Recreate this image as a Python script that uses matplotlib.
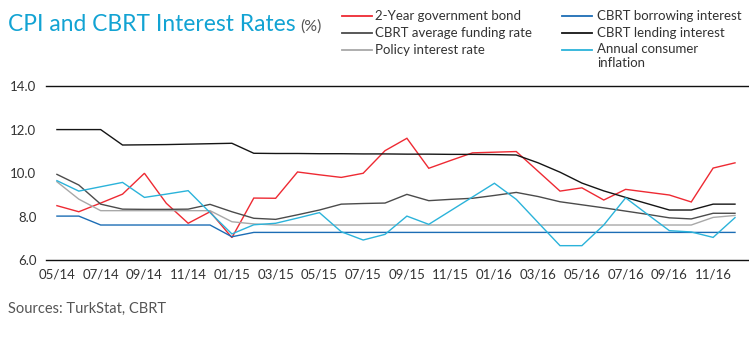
import matplotlib
matplotlib.use("Agg")
import matplotlib.pyplot as plt
from matplotlib.lines import Line2D
from matplotlib.ticker import FormatStrFormatter
import numpy as np

plt.rcParams['font.family'] = ['Lato', 'DejaVu Sans']

months = ['05/14', '06/14', '07/14', '08/14', '09/14', '10/14', '11/14', '12/14',
          '01/15', '02/15', '03/15', '04/15', '05/15', '06/15', '07/15', '08/15',
          '09/15', '10/15', '11/15', '12/15', '01/16', '02/16', '03/16', '04/16',
          '05/16', '06/16', '07/16', '08/16', '09/16', '10/16', '11/16', '12/16']
tick_labels = ['05/14', '07/14', '09/14', '11/14', '01/15', '03/15', '05/15', '07/15',
               '09/15', '11/15', '01/16', '03/16', '05/16', '07/16', '09/16', '11/16']

bond_2y = [8.50, 8.22, 8.62, 9.03, 9.99, 8.61, 7.69, 8.22, 7.03, 8.85, 8.84, 10.05,
           9.92, 9.80, 9.99, 11.03, 11.60, 10.22, 10.58, 10.93, 10.96, 10.99, 10.08, 9.17,
           9.32, 8.76, 9.25, 9.12, 8.99, 8.67, 10.23, 10.47]
avg_funding = [9.94, 9.45, 8.57, 8.34, 8.33, 8.33, 8.34, 8.56, 8.22, 7.92, 7.87, 8.08,
               8.30, 8.57, 8.60, 8.62, 9.02, 8.73, 8.79, 8.84, 8.97, 9.11, 8.92, 8.68,
               8.54, 8.40, 8.25, 8.10, 7.94, 7.89, 8.15, 8.15]
policy_rate = [9.60, 8.80, 8.27, 8.27, 8.27, 8.27, 8.27, 8.27, 7.76, 7.66, 7.61, 7.61,
               7.61, 7.61, 7.61, 7.61, 7.61, 7.61, 7.61, 7.61, 7.61, 7.61, 7.61, 7.61,
               7.61, 7.61, 7.61, 7.61, 7.61, 7.61, 7.96, 8.05]
borrowing_rate = [8.02, 8.02, 7.61, 7.61, 7.61, 7.61, 7.61, 7.61, 7.07, 7.27, 7.27, 7.27,
                  7.27, 7.27, 7.27, 7.27, 7.27, 7.27, 7.27, 7.27, 7.27, 7.27, 7.27, 7.27,
                  7.27, 7.27, 7.27, 7.27, 7.27, 7.27, 7.27, 7.27]
lending_rate = [12.0, 12.0, 12.0, 11.29, 11.30, 11.31, 11.33, 11.35, 11.37, 10.91, 10.90, 10.90,
                10.89, 10.89, 10.88, 10.88, 10.87, 10.87, 10.86, 10.86, 10.85, 10.83, 10.47, 10.04,
                9.54, 9.18, 8.88, 8.59, 8.30, 8.30, 8.57, 8.57]
inflation = [9.65, 9.17, 9.37, 9.57, 8.88, 9.03, 9.19, 8.18, 7.20, 7.62, 7.69, 7.93,
             8.18, 7.30, 6.92, 7.18, 8.02, 7.64, 8.27, 8.90, 9.53, 8.79, 7.72, 6.66,
             6.66, 7.61, 8.86, 8.10, 7.35, 7.29, 7.04, 7.95]

series = [
    ('2-Year government bond', bond_2y, '#ee2a33'),
    ('CBRT average funding rate', avg_funding, '#4b4b4b'),
    ('Policy interest rate', policy_rate, '#a8a8a8'),
    ('CBRT borrowing interest', borrowing_rate, '#1c6db5'),
    ('CBRT lending interest', lending_rate, '#151515'),
    ('Annual consumer\ninflation', inflation, '#2bb3da'),
]

fig = plt.figure(figsize=(7.49, 3.39), dpi=100)
ax = fig.add_axes([0.0614, 0.233, 0.9386, 0.513])

x = np.arange(len(months))
for label, values, color in series:
    ax.plot(x, values, color=color, lw=1.0, solid_joinstyle='miter')

ax.set_xlim(-0.5, 31.64)
ax.set_ylim(6, 14)
ax.set_yticks([6, 8, 10, 12, 14])
ax.yaxis.set_major_formatter(FormatStrFormatter('%.1f'))
ax.set_xticks([months.index(t) for t in tick_labels])
ax.set_xticklabels(tick_labels)
ax.tick_params(length=0, labelsize=9.5, colors='#333333')
ax.tick_params(axis='y', pad=7)
ax.tick_params(axis='x', pad=6)
for side in ['left', 'right']:
    ax.spines[side].set_visible(False)
for side in ['top', 'bottom']:
    ax.spines[side].set_color('#111111')
    ax.spines[side].set_linewidth(1.0)

# title, with the unit placed right after it
title = fig.text(0.011, 0.909, 'CPI and CBRT Interest Rates', color='#12a3d3',
                 fontsize=16.4, va='baseline', ha='left')
renderer = fig.canvas.get_renderer()
title_end = fig.transFigure.inverted().transform(
    (title.get_window_extent(renderer).x1, 0))[0]
fig.text(title_end + 0.006, 0.909, '(%)', color='#555555', fontsize=11.5,
         va='baseline', ha='left')

# legend, two columns of three entries
col_x = [(0.4566, 0.4967, 0.5007), (0.7503, 0.7904, 0.797)]
row_y = [0.9528, 0.9027, 0.8525]
for i, (label, values, color) in enumerate(series):
    x0, x1, tx = col_x[i // 3]
    y = row_y[i % 3]
    fig.add_artist(Line2D([x0, x1], [y, y], transform=fig.transFigure,
                          color=color, lw=1.3))
    if '\n' in label:
        fig.text(tx, y + 0.021, label, fontsize=9.5, color='#333333',
                 va='top', ha='left', linespacing=1.25)
    else:
        fig.text(tx, y, label, fontsize=9.5, color='#333333', va='center', ha='left')

fig.text(0.011, 0.09, 'Sources: TurkStat, CBRT', color='#555555', fontsize=10.5,
         va='center', ha='left')

fig.savefig('out.png', dpi=100)
